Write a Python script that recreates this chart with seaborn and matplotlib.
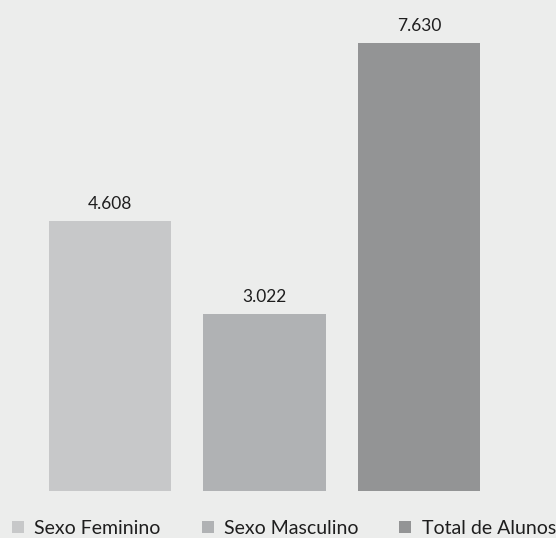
import matplotlib
matplotlib.use("Agg")
import matplotlib.pyplot as plt
import seaborn as sns
from matplotlib.patches import Patch

# Data
categorias = ["Sexo Feminino", "Sexo Masculino", "Total de Alunos"]
valores = [4608, 3022, 7630]
rotulos = ["4.608", "3.022", "7.630"]
cores = ["#c7c8c9", "#b0b2b4", "#939495"]

bg = "#ecedec"
sns.set_theme(style="white")
plt.rcParams["font.family"] = ["Lato", "DejaVu Sans"]

W, H = 556, 538
fig = plt.figure(figsize=(W / 100, H / 100), dpi=100, facecolor=bg)
ax = fig.add_axes([0, (H - 491) / H, 1, (491 - 43.3) / H])
ax.set_facecolor(bg)

sns.barplot(x=categorias, y=valores, hue=categorias, palette=cores,
            width=0.79, dodge=False, legend=False, saturation=1,
            edgecolor="none", linewidth=0, ax=ax)

ax.set_ylim(0, 7630)
ax.set_xlim(-110 / 154.5, (W - 110) / 154.5)
ax.axis("off")

for cont, lab in zip(ax.containers, rotulos):
    ax.bar_label(cont, labels=[lab], padding=6.5, fontsize=12.5, color="#1e1e1e")

handles = [Patch(facecolor=c, edgecolor="none") for c in cores]
fig.legend(handles, categorias, loc="center left",
           bbox_to_anchor=(12 / W, (H - 528.5) / H), ncol=3, frameon=False,
           fontsize=14, handlelength=0.62, handleheight=0.58,
           handletextpad=0.53, columnspacing=2.1, borderpad=0,
           borderaxespad=0, labelcolor="#1e1e1e")

fig.savefig("out.png", dpi=100, facecolor=bg)
